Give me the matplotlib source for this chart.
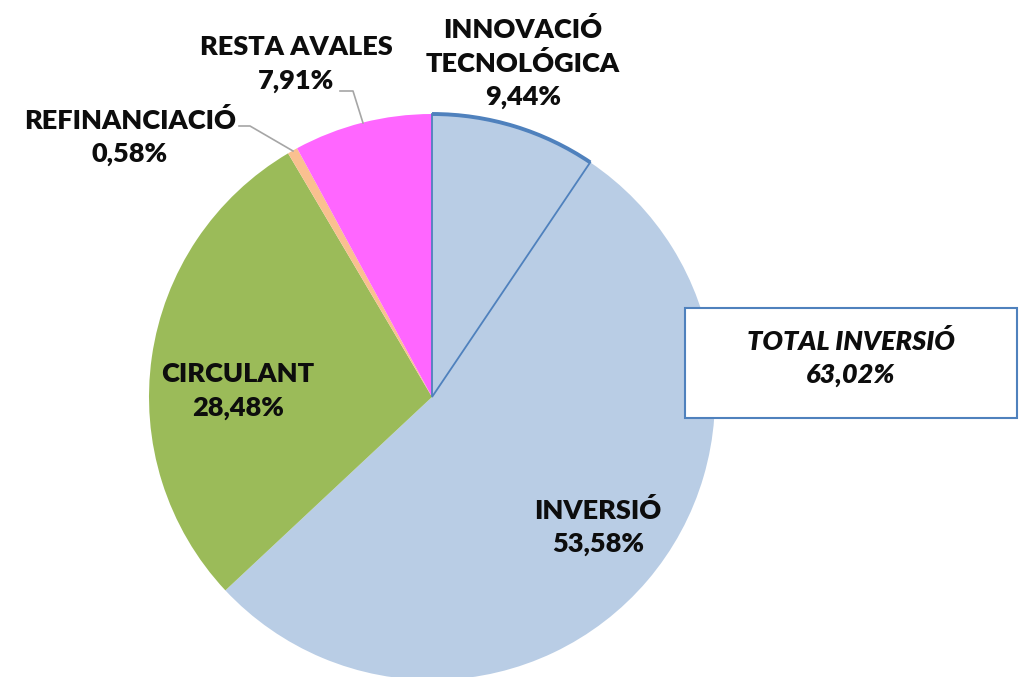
import matplotlib
matplotlib.use("Agg")
import matplotlib.pyplot as plt
from matplotlib.patches import Rectangle, Arc

categories = ["INNOVACIÓ\nTECNOLÓGICA", "INVERSIÓ", "CIRCULANT", "REFINANCIACIÓ", "RESTA AVALES"]
values = [9.44, 53.58, 28.48, 0.58, 7.91]
value_labels = ["9,44%", "53,58%", "28,48%", "0,58%", "7,91%"]
colors = ["#B9CDE5", "#B9CDE5", "#9BBB59", "#FAC090", "#FF66FF"]
total_label = "TOTAL INVERSIÓ\n63,02%"

W, H = 1023, 677
fig = plt.figure(figsize=(W / 100, H / 100), dpi=100)
ax = fig.add_axes([0, 0, 1, 1])
ax.set_xlim(0, W)
ax.set_ylim(0, H)
ax.set_aspect("equal")
ax.axis("off")

def py(y):
    return H - y

cx, cy, r = 432, py(397), 283
wedges, _ = ax.pie(values, colors=colors, startangle=90, counterclock=False,
                   center=(cx, cy), radius=r, frame=True,
                   wedgeprops=dict(linewidth=0))
ax.set_xlim(0, W)
ax.set_ylim(0, H)
ax.axis("off")

# outline of first slice
w0 = wedges[0]
w0.set_edgecolor("#4F81BD")
w0.set_linewidth(1.3)
w0.set_zorder(3)
ax.add_patch(Arc((cx, cy), 2 * r, 2 * r, theta1=w0.theta1, theta2=w0.theta2,
                 color="#4F81BD", lw=2.8, zorder=4))

font = dict(family=["Lato", "DejaVu Sans"], fontweight="heavy", fontsize=19.5,
            color="#0D0D0D", ha="center", va="center", linespacing=1.45)

positions = [(523, 63), (598, 527), (238, 391), (130, 137), (296, 64)]
for cat, lab, (x, y) in zip(categories, value_labels, positions):
    ax.text(x, py(y), f"{cat}\n{lab}", **font)

# leader lines
lc = "#A6A6A6"
ax.plot([340, 353, 363], [py(91), py(91), py(123)], color=lc, lw=1.2, zorder=5)
ax.plot([239, 250, 293], [py(126), py(126), py(151)], color=lc, lw=1.2, zorder=5)

# total box
ax.add_patch(Rectangle((685, py(418)), 1017 - 685, 418 - 308, facecolor="white",
                       edgecolor="#4F81BD", lw=1.5, zorder=6))
f2 = dict(font)
f2["fontstyle"] = "italic"
ax.text(851, py(358), total_label, zorder=7, **f2)

fig.savefig("out.png", dpi=100)
